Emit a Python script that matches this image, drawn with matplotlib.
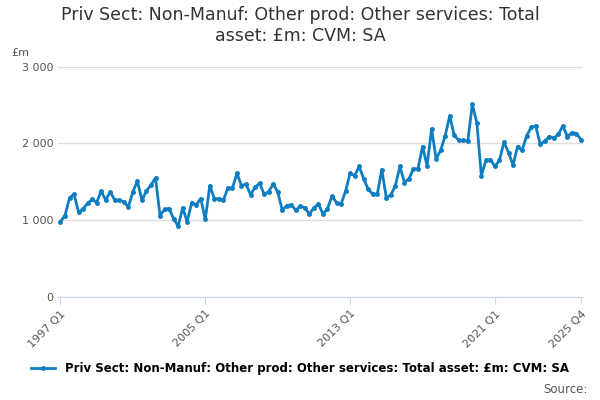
import matplotlib.pyplot as plt

# quarterly values, 1997 Q1 .. 2025 Q4 (£m)
values = [
    980, 1060, 1290, 1340,
    1100, 1150, 1220, 1270,
    1230, 1380, 1260, 1370,
    1260, 1260, 1240, 1170,
    1370, 1510, 1260, 1380,
    1460, 1550, 1060, 1140,
    1150, 1020, 920, 1160,
    980, 1230, 1200, 1280,
    1010, 1450, 1280, 1280,
    1260, 1420, 1420, 1610,
    1450, 1470, 1330, 1430,
    1480, 1340, 1370, 1470,
    1370, 1130, 1190, 1200,
    1130, 1180, 1160, 1080,
    1160, 1210, 1080, 1150,
    1310, 1230, 1210, 1380,
    1610, 1580, 1700, 1540,
    1400, 1340, 1340, 1660,
    1290, 1330, 1450, 1700,
    1490, 1540, 1670, 1670,
    1960, 1710, 2190, 1800,
    1910, 2100, 2360, 2110,
    2040, 2040, 2030, 2510,
    2270, 1580, 1780, 1790,
    1700, 1780, 2020, 1880,
    1720, 1960, 1910, 2100,
    2210, 2230, 1990, 2030,
    2090, 2070, 2120, 2230,
    2090, 2140, 2130, 2050,
]
tick_pos = [0, 32, 64, 96, 115]
tick_labels = ["1997 Q1", "2005 Q1", "2013 Q1", "2021 Q1", "2025 Q4"]
series_name = "Priv Sect: Non-Manuf: Other prod: Other services: Total asset: £m: CVM: SA"

fig = plt.figure(figsize=(6, 4), dpi=100)
ax = fig.add_axes([0.097, 0.258, 0.875, 0.575])
ax.plot(range(len(values)), values, color="#0f7dc2", lw=2, marker="o", ms=2.5)
ax.set_ylim(0, 3000)
ax.set_xlim(-0.5, 115.5)
ax.set_yticks([0, 1000, 2000, 3000])
ax.set_yticklabels(["0", "1 000", "2 000", "3 000"], fontsize=8, color="#555555")
ax.set_xticks(tick_pos)
ax.set_xticklabels(tick_labels, rotation=45, ha="right", rotation_mode="anchor", fontsize=8, color="#555555")
ax.grid(axis="y", color="#dddddd", lw=1)
ax.set_axisbelow(True)
for s in ["top", "right", "left"]:
    ax.spines[s].set_visible(False)
ax.spines["bottom"].set_color("#ccd6eb")
ax.tick_params(axis="y", length=0)
ax.tick_params(axis="x", color="#ccd6eb", length=5)
fig.text(0.5, 0.985, "Priv Sect: Non-Manuf: Other prod: Other services: Total\nasset: £m: CVM: SA",
         ha="center", va="top", fontsize=12.5, color="#333333")
fig.text(0.018, 0.86, "£m", fontsize=8, color="#555555")
fig.legend(handles=ax.lines, labels=[series_name], loc="lower center", bbox_to_anchor=(0.5, 0.035),
           frameon=False, fontsize=8.5, prop={"weight": "bold", "size": 8.5}, handlelength=2)
fig.text(0.98, 0.01, "Source:", ha="right", va="bottom", fontsize=8.5, color="#555555")
fig.savefig("out.png")
